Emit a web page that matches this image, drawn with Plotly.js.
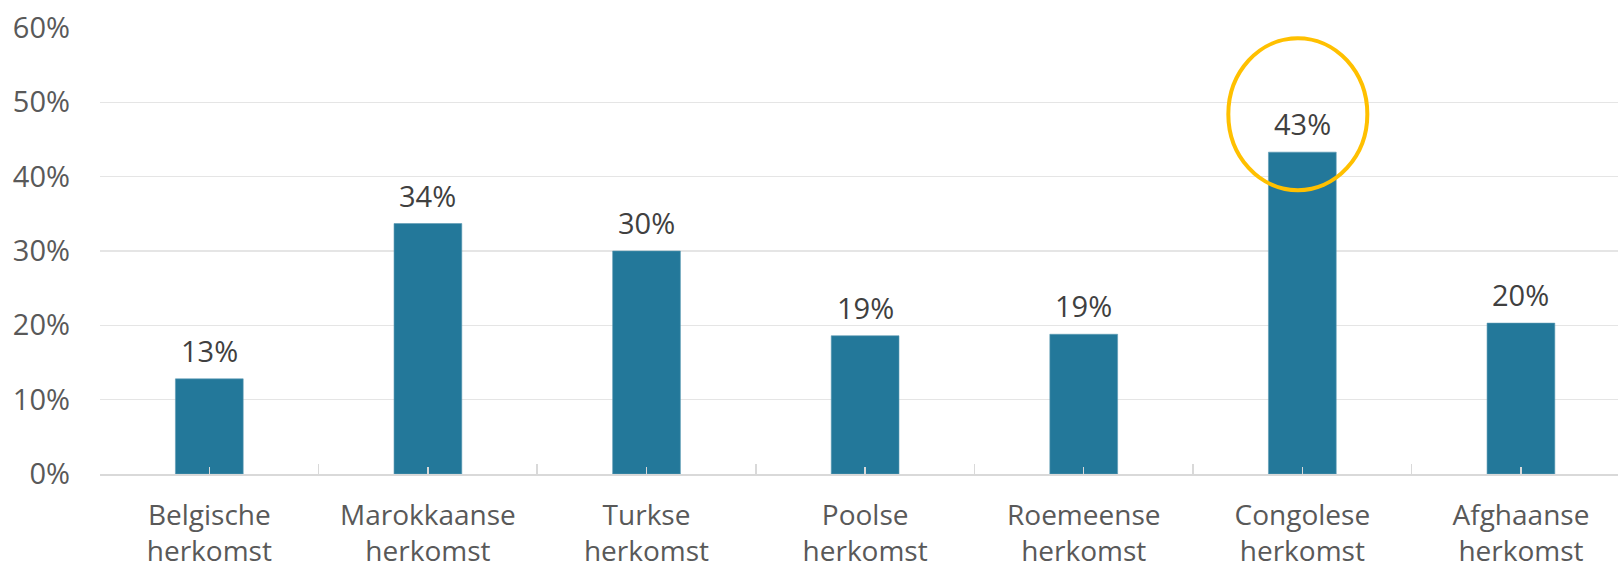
<!DOCTYPE html>
<html>
<head>
<meta charset="utf-8">
<script src="https://cdn.plot.ly/plotly-3.0.1.min.js"></script>
<style>html,body{margin:0;padding:0;background:#fff;}#chart{width:1618px;height:570px;}</style>
</head>
<body>
<div id="chart"></div>
<script>
const categories = ["Belgische<br>herkomst", "Marokkaanse<br>herkomst", "Turkse<br>herkomst", "Poolse<br>herkomst", "Roemeense<br>herkomst", "Congolese<br>herkomst", "Afghaanse<br>herkomst"];
const values = [0.128, 0.337, 0.300, 0.186, 0.188, 0.433, 0.203];
const valueLabels = ["13%", "34%", "30%", "19%", "19%", "43%", "20%"];
const yTickVals = [0, 0.1, 0.2, 0.3, 0.4, 0.5, 0.6];
const yTickText = ["0%", "10%", "20%", "30%", "40%", "50%", "60%"];
const highlightIndex = 5;

const FONT = "Open Sans, Lato, sans-serif";

const trace = {
  type: "bar",
  x: categories,
  y: values,
  marker: {color: "#23789A", line: {color: "#5d9ab3", width: 0.6}},
  width: 0.31,
  hoverinfo: "skip"
};

const annotations = categories.map((c, i) => ({
  x: c, y: values[i], xref: "x", yref: "y",
  text: valueLabels[i], showarrow: false,
  yanchor: "bottom", yshift: 7,
  font: {family: FONT, size: 29, color: "#404040"}
}));

const layout = {
  width: 1618, height: 570,
  margin: {l: 100, r: 0, t: 28, b: 96},
  paper_bgcolor: "#ffffff", plot_bgcolor: "#ffffff",
  showlegend: false,
  font: {family: FONT, size: 28, color: "#595959"},
  xaxis: {
    type: "category",
    range: [-0.5, 6.444],
    tickson: "boundaries",
    ticks: "inside", ticklen: 10, tickwidth: 1.5, tickcolor: "#d9d9d9",
    showline: true, linecolor: "#d9d9d9", linewidth: 2,
    showgrid: false, zeroline: false,
    ticklabelstandoff: 15,
    tickfont: {family: FONT, size: 28, color: "#595959"},
    fixedrange: true
  },
  xaxis2: {
    type: "category", overlaying: "x", matches: "x",
    range: [-0.5, 6.444],
    ticks: "inside", ticklen: 7, tickwidth: 1.5, tickcolor: "#d9d9d9",
    showticklabels: false, showgrid: false, zeroline: false, showline: false,
    layer: "above traces"
  },
  yaxis: {
    range: [0, 0.6],
    tickvals: yTickVals, ticktext: yTickText,
    showgrid: true, gridcolor: "#e5e5e5", gridwidth: 1.5,
    zeroline: false, showline: false, ticks: "",
    ticklabelstandoff: 29,
    tickfont: {family: FONT, size: 29, color: "#595959"},
    fixedrange: true
  },
  annotations: annotations,
  shapes: [{
    type: "circle", xref: "x", yref: "y",
    xsizemode: "pixel", ysizemode: "pixel",
    xanchor: highlightIndex, yanchor: values[highlightIndex],
    x0: -74, x1: 65, y0: -38, y1: 114,
    line: {color: "#FFC000", width: 4},
    fillcolor: "rgba(0,0,0,0)",
    layer: "above"
  }]
};

const ghost = {
  type: "bar", x: categories, y: values.map(() => 0), xaxis: "x2", yaxis: "y",
  marker: {color: "rgba(0,0,0,0)"}, hoverinfo: "skip", showlegend: false
};

Plotly.newPlot("chart", [trace, ghost], layout, {displayModeBar: false, staticPlot: true});
</script>
</body>
</html>
